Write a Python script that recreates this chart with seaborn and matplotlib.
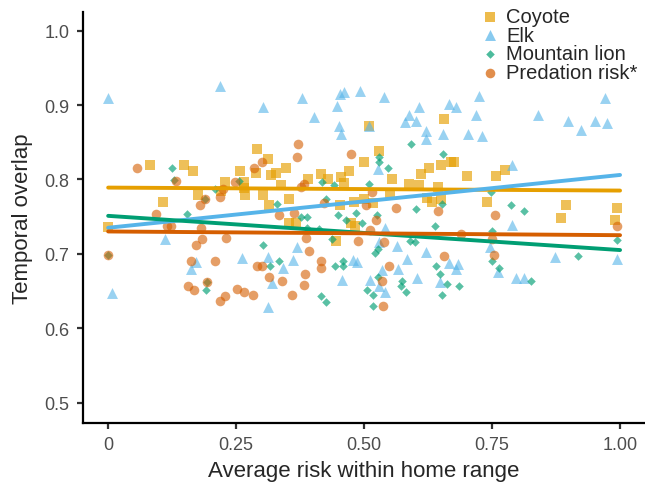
import numpy as np
import pandas as pd
import matplotlib
matplotlib.use("Agg")
import matplotlib.pyplot as plt
import seaborn as sns

# points (x = average risk, y = temporal overlap)
coyote_x = [0.000, 0.082, 0.107, 0.148, 0.166, 0.175, 0.220, 0.229, 0.258, 0.265,
            0.265, 0.267, 0.288, 0.291, 0.302, 0.313, 0.318, 0.315, 0.328, 0.337,
            0.347, 0.353, 0.353, 0.366, 0.391, 0.416, 0.429, 0.446, 0.452, 0.454,
            0.460, 0.471, 0.475, 0.480, 0.482, 0.500, 0.500, 0.510, 0.517, 0.530,
            0.551, 0.555, 0.588, 0.607, 0.611, 0.623, 0.627, 0.632, 0.645, 0.650,
            0.651, 0.656, 0.669, 0.675, 0.701, 0.740, 0.758, 0.776, 0.885, 0.894,
            0.990, 0.995]
coyote_y = [0.736, 0.819, 0.769, 0.820, 0.811, 0.779, 0.784, 0.796, 0.811, 0.796,
            0.788, 0.779, 0.809, 0.841, 0.779, 0.827, 0.806, 0.766, 0.808, 0.793,
            0.816, 0.773, 0.742, 0.741, 0.801, 0.807, 0.801, 0.717, 0.765, 0.803,
            0.795, 0.811, 0.742, 0.770, 0.737, 0.824, 0.773, 0.872, 0.768, 0.838,
            0.780, 0.800, 0.794, 0.793, 0.807, 0.775, 0.816, 0.770, 0.790, 0.820,
            0.773, 0.881, 0.824, 0.824, 0.804, 0.769, 0.804, 0.812, 0.748, 0.765,
            0.746, 0.761]

elk_x = [0.000, 0.008, 0.111, 0.161, 0.172, 0.219, 0.261, 0.303, 0.313, 0.313,
         0.321, 0.342, 0.362, 0.368, 0.378, 0.402, 0.447, 0.450, 0.452, 0.454,
         0.457, 0.460, 0.478, 0.487, 0.492, 0.510, 0.511, 0.528, 0.530, 0.530,
         0.535, 0.538, 0.540, 0.541, 0.564, 0.567, 0.579, 0.584, 0.588, 0.601,
         0.603, 0.607, 0.620, 0.620, 0.621, 0.648, 0.654, 0.665, 0.666, 0.679,
         0.680, 0.683, 0.702, 0.718, 0.724, 0.731, 0.746, 0.761, 0.788, 0.788,
         0.797, 0.812, 0.839, 0.873, 0.899, 0.923, 0.951, 0.970, 0.975, 0.995]
elk_y = [0.909, 0.647, 0.720, 0.680, 0.689, 0.926, 0.694, 0.898, 0.695, 0.628,
         0.661, 0.681, 0.691, 0.709, 0.909, 0.884, 0.899, 0.872, 0.915, 0.861,
         0.665, 0.918, 0.692, 0.689, 0.919, 0.872, 0.665, 0.814, 0.716, 0.656,
         0.678, 0.911, 0.649, 0.735, 0.710, 0.679, 0.877, 0.693, 0.886, 0.878,
         0.668, 0.898, 0.865, 0.855, 0.703, 0.662, 0.861, 0.901, 0.688, 0.679,
         0.897, 0.686, 0.861, 0.886, 0.912, 0.858, 0.709, 0.675, 0.820, 0.739,
         0.667, 0.667, 0.886, 0.696, 0.878, 0.867, 0.878, 0.910, 0.876, 0.693]

lion_x = [0.000, 0.125, 0.128, 0.155, 0.190, 0.192, 0.193, 0.208, 0.255, 0.303,
          0.316, 0.329, 0.334, 0.376, 0.389, 0.389, 0.412, 0.415, 0.418, 0.426,
          0.426, 0.437, 0.441, 0.444, 0.449, 0.459, 0.459, 0.465, 0.484, 0.496,
          0.505, 0.509, 0.517, 0.518, 0.521, 0.527, 0.525, 0.528, 0.530, 0.530,
          0.546, 0.573, 0.575, 0.582, 0.590, 0.591, 0.599, 0.602, 0.638, 0.640,
          0.648, 0.653, 0.653, 0.654, 0.662, 0.685, 0.748, 0.750, 0.750, 0.764,
          0.786, 0.813, 0.827, 0.917, 0.995]
lion_y = [0.698, 0.816, 0.799, 0.753, 0.773, 0.651, 0.662, 0.787, 0.798, 0.712,
          0.684, 0.767, 0.690, 0.750, 0.750, 0.735, 0.733, 0.643, 0.796, 0.774,
          0.635, 0.720, 0.792, 0.683, 0.752, 0.690, 0.683, 0.746, 0.755, 0.742,
          0.651, 0.794, 0.644, 0.630, 0.701, 0.706, 0.752, 0.669, 0.830, 0.824,
          0.815, 0.657, 0.663, 0.649, 0.717, 0.847, 0.716, 0.760, 0.737, 0.684,
          0.673, 0.767, 0.644, 0.834, 0.659, 0.656, 0.783, 0.731, 0.690, 0.681,
          0.766, 0.757, 0.663, 0.697, 0.718]

pred_x = [0.000, 0.056, 0.094, 0.114, 0.122, 0.133, 0.156, 0.161, 0.168, 0.172,
          0.179, 0.181, 0.184, 0.190, 0.193, 0.208, 0.219, 0.219, 0.224, 0.229,
          0.230, 0.247, 0.251, 0.266, 0.282, 0.285, 0.291, 0.300, 0.300, 0.315,
          0.334, 0.340, 0.360, 0.363, 0.368, 0.371, 0.376, 0.382, 0.382, 0.384,
          0.387, 0.392, 0.415, 0.415, 0.421, 0.474, 0.489, 0.504, 0.511, 0.516,
          0.524, 0.535, 0.536, 0.538, 0.548, 0.563, 0.645, 0.657, 0.690, 0.750,
          0.753, 0.756, 0.995]
pred_y = [0.698, 0.816, 0.753, 0.737, 0.738, 0.798, 0.656, 0.690, 0.651, 0.712,
          0.766, 0.735, 0.720, 0.773, 0.662, 0.690, 0.776, 0.636, 0.787, 0.643,
          0.721, 0.796, 0.652, 0.648, 0.644, 0.815, 0.684, 0.684, 0.824, 0.669,
          0.752, 0.664, 0.645, 0.755, 0.830, 0.847, 0.790, 0.794, 0.658, 0.673,
          0.721, 0.704, 0.690, 0.681, 0.768, 0.834, 0.717, 0.766, 0.732, 0.783,
          0.746, 0.663, 0.630, 0.716, 0.684, 0.761, 0.758, 0.697, 0.726, 0.720,
          0.699, 0.752, 0.738]

# fitted lines, value at x = 0 and x = 1
fit_x = [0.0, 1.0]
coyote_fit = [0.789, 0.785]
elk_fit = [0.735, 0.806]
lion_fit = [0.751, 0.705]
pred_fit = [0.730, 0.725]

groups = ["Coyote", "Elk", "Mountain lion", "Predation risk*"]
colors = {"Coyote": "#E69F00", "Elk": "#56B4E9",
          "Mountain lion": "#009E73", "Predation risk*": "#D55E00"}
markers = {"Coyote": "s", "Elk": "^", "Mountain lion": "D", "Predation risk*": "o"}
sizes = {"Coyote": 48, "Elk": 62, "Mountain lion": 19, "Predation risk*": 48}
alphas = {"Coyote": 0.65, "Elk": 0.6, "Mountain lion": 0.65, "Predation risk*": 0.6}

pts = {"Coyote": (coyote_x, coyote_y), "Elk": (elk_x, elk_y),
       "Mountain lion": (lion_x, lion_y), "Predation risk*": (pred_x, pred_y)}
fits = {"Coyote": coyote_fit, "Elk": elk_fit,
        "Mountain lion": lion_fit, "Predation risk*": pred_fit}

df = pd.concat([pd.DataFrame({"risk": x, "overlap": y, "group": g})
                for g, (x, y) in pts.items()], ignore_index=True)

sns.set_theme(style="ticks")
plt.rcParams["font.family"] = ["Liberation Sans", "DejaVu Sans"]

fig = plt.figure(figsize=(6.45, 4.89), dpi=100)
ax = fig.add_axes([0.128, 0.133, 0.873, 0.841])

for g in groups:
    sub = df[df["group"] == g]
    sns.scatterplot(data=sub, x="risk", y="overlap", ax=ax, color=colors[g],
                    marker=markers[g], s=sizes[g], alpha=alphas[g],
                    linewidth=0, label=g)

for g in groups:
    sns.lineplot(x=fit_x, y=fits[g], ax=ax, color=colors[g], linewidth=2.8,
                 legend=False, zorder=5)

ax.set_xlim(-0.05, 1.05)
ax.set_ylim(0.4725, 1.0255)
ax.set_xticks([0, 0.25, 0.5, 0.75, 1.0])
ax.set_xticklabels(["0", "0.25", "0.50", "0.75", "1.00"])
ax.set_yticks([0.5, 0.6, 0.7, 0.8, 0.9, 1.0])
ax.set_yticklabels(["0.5", "0.6", "0.7", "0.8", "0.9", "1.0"])
ax.tick_params(labelsize=13, labelcolor="#4D4D4D", color="#333333",
               length=4.5, width=1.6, pad=5)
ax.set_xlabel("Average risk within home range", fontsize=16, labelpad=5)
ax.set_ylabel("Temporal overlap", fontsize=16, labelpad=8)
sns.despine(ax=ax)
for sp in ["left", "bottom"]:
    ax.spines[sp].set_linewidth(1.6)
    ax.spines[sp].set_color("black")

leg = ax.legend(loc="upper left", bbox_to_anchor=(466 / 645, 1.008),
                bbox_transform=fig.transFigure, frameon=False, fontsize=14.5,
                labelspacing=-0.02, handletextpad=0.2, borderpad=0.1,
                handlelength=1.2)
for h in leg.legend_handles:
    h.set_alpha(0.7)

fig.savefig("out.png", dpi=100)
